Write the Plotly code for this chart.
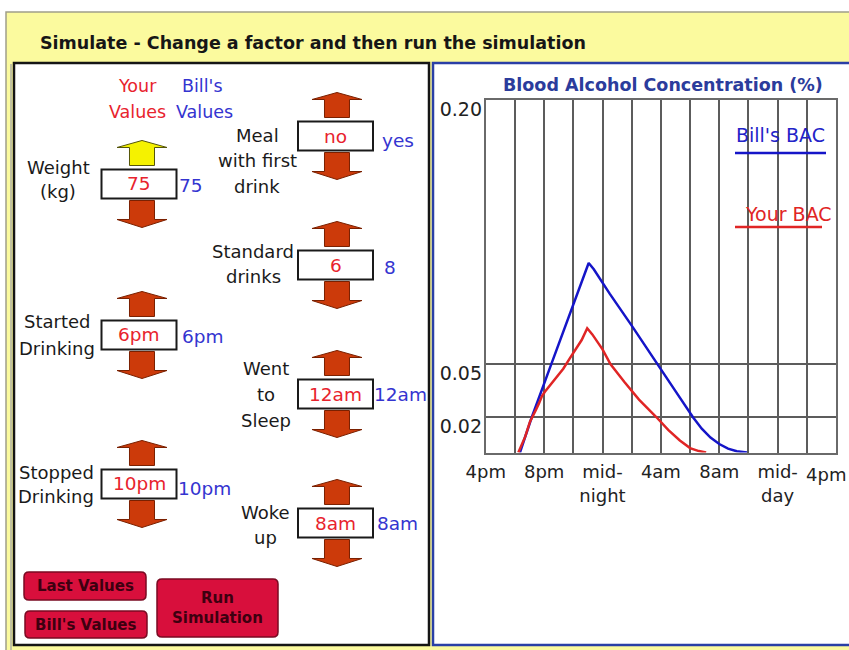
import plotly.graph_objects as go

# ---------------- data ----------------
# hours after 4pm
bill_hours = [2.34, 3.15, 4.35, 5.5, 6.5, 7.05, 7.4, 8.5, 10.0, 11.75, 13.0, 14.2, 14.8, 15.4, 16.0, 16.6, 17.2, 17.9]
bill_bac = [0.0, 0.020, 0.047, 0.073, 0.096, 0.1075, 0.104, 0.090, 0.072, 0.050, 0.0348, 0.020, 0.0135, 0.0085, 0.0048, 0.0022, 0.0007, 0.0]

your_hours = [2.23, 2.7, 3.03, 3.2, 3.45, 3.65, 3.85, 4.05, 4.3, 4.55, 4.8, 5.05, 5.31, 5.8, 6.2, 6.57, 6.95,
              7.3, 8.0, 8.55, 9.5, 10.5, 11.7, 12.5, 13.3, 14.0, 14.6, 15.1]
your_bac = [0.0, 0.009, 0.0175, 0.020, 0.0245, 0.028, 0.032, 0.0345, 0.037, 0.040, 0.0425, 0.0445, 0.0475, 0.054, 0.059, 0.0638, 0.0705,
            0.067, 0.0585, 0.050, 0.040, 0.030, 0.020, 0.0128, 0.0068, 0.0025, 0.0008, 0.0]

x_tick_vals = [0, 4, 8, 12, 16, 20, 24]
x_tick_text = ["4pm", "8pm", "mid-<br>night", "4am", "8am", "mid-<br>day", "4pm"]
y_tick_vals = [0.02, 0.05, 0.20]
y_tick_text = ["0.02", "0.05", "0.20"]

control_labels = [["Weight", "(kg)"], ["Meal", "with first", "drink"], ["Standard", "drinks"],
                  ["Started", "Drinking"], ["Went", "to", "Sleep"], ["Stopped", "Drinking"], ["Woke", "up"]]
your_values = ["75", "no", "6", "6pm", "12am", "10pm", "8am"]
bills_values = ["75", "yes", "8", "6pm", "12am", "10pm", "8am"]
button_labels = ["Last Values", "Bill's Values", "Run<br>Simulation"]

# ---------------- layout helpers (pixel -> paper) ----------------
W, H = 849, 650
FONT = "DejaVu Sans"
RED_T = "#e8232d"
BLUE_T = "#3434d0"


def fx(x):
    return x / W


def fy(y):
    return 1 - y / H


def rect(x0, y0, x1, y1, fill, line, lw, layer="above"):
    return dict(type="rect", xref="paper", yref="paper", x0=fx(x0), x1=fx(x1), y0=fy(y1), y1=fy(y0),
                fillcolor=fill, line=dict(color=line, width=lw), layer=layer)


def poly(points, fill, line, lw):
    p = "M " + " L ".join(f"{fx(a):.5f},{fy(b):.5f}" for a, b in points) + " Z"
    return dict(type="path", xref="paper", yref="paper", path=p, fillcolor=fill,
                line=dict(color=line, width=lw), layer="above")


def rrect(x0, y0, x1, y1, r, fill, line, lw):
    p = (f"M {fx(x0 + r)},{fy(y0)} L {fx(x1 - r)},{fy(y0)} Q {fx(x1)},{fy(y0)} {fx(x1)},{fy(y0 + r)} "
         f"L {fx(x1)},{fy(y1 - r)} Q {fx(x1)},{fy(y1)} {fx(x1 - r)},{fy(y1)} "
         f"L {fx(x0 + r)},{fy(y1)} Q {fx(x0)},{fy(y1)} {fx(x0)},{fy(y1 - r)} "
         f"L {fx(x0)},{fy(y0 + r)} Q {fx(x0)},{fy(y0)} {fx(x0 + r)},{fy(y0)} Z")
    return dict(type="path", xref="paper", yref="paper", path=p, fillcolor=fill,
                line=dict(color=line, width=lw), layer="above")


def text(x, y, s, size=18, color="#1a1a1a", anchor="center", bold=False):
    return dict(xref="paper", yref="paper", x=fx(x), y=fy(y), text=(f"<b>{s}</b>" if bold else s),
                showarrow=False, xanchor=anchor, yanchor="middle",
                font=dict(family=FONT, size=size, color=color))


def arrow(cx, box_top, box_bot, up, fill="#cc3a0a", line="#7a2000"):
    hw, sw = 25, 12.5
    if up:
        apex, base, sb = box_top - 29, box_top - 22, box_top - 4
    else:
        apex, base, sb = box_bot + 29, box_bot + 21, box_bot + 2
    pts = [(cx - sw, sb), (cx - sw, base), (cx - hw, base), (cx, apex), (cx + hw, base), (cx + sw, base), (cx + sw, sb)]
    return poly(pts, fill, line, 1)


shapes = []
annotations = []

# background frame and panels
shapes.append(rect(6, 12, 853, 654, "#fbfa9e", "#a09f8a", 1.5, layer="below"))
shapes.append(rect(14, 63, 429, 645, "white", "#151515", 2.5, layer="below"))
shapes.append(rect(433, 63, 853, 645, "white", "#2a3fa6", 2.5, layer="below"))
shapes.append(dict(type="line", xref="paper", yref="paper", x0=fx(11), x1=fx(11), y0=fy(64), y1=fy(654),
                   line=dict(color="#b0b0a0", width=1.5), layer="below"))

annotations.append(text(38, 43, "Simulate - Change a factor and then run the simulation", 17.5, "#161616", "left", True))

# column headers
annotations += [text(137, 86, "Your", 17.5, RED_T), text(137, 112, "Values", 17.5, RED_T),
                text(202, 86, "Bill's", 17.5, BLUE_T), text(204, 112, "Values", 17.5, BLUE_T)]

# controls: (box center x, box center y, label x, label ys, bill value x, bill value y, arrow cx)
ctrl_pos = [
    (139, 184, 58, [167, 192], 191, 185, 142),
    (335.5, 136, 257, [135, 160, 186], 398, 140, 337),
    (335.5, 265, 253, [252, 277], 390, 267, 337),
    (139, 335, 57, [322, 348], 203, 336, 142),
    (335.5, 394, 266, [368, 395, 420], 400, 395, 337),
    (139, 484, 56, [472, 496], 204, 488, 142),
    (335.5, 523, 265, [512, 537], 397, 523, 337),
]
for i, (bx, by, lx, lys, vx, vy, acx) in enumerate(ctrl_pos):
    top, bot = by - 14.5, by + 14.5
    shapes.append(rect(bx - 37.5, top, bx + 37.5, bot, "white", "#1a1a1a", 2))
    if i == 0:
        shapes.append(arrow(acx, top, bot, True, fill="#f5f200", line="#55550a"))
    else:
        shapes.append(arrow(acx, top, bot, True))
    shapes.append(arrow(acx, top, bot, False))
    annotations.append(text(bx, by, your_values[i], 18.5, RED_T))
    annotations.append(text(vx, vy, bills_values[i], 18.5, BLUE_T))
    for ly, s in zip(lys, control_labels[i]):
        annotations.append(text(lx, ly, s, 18))

# buttons
btn_pos = [(24, 572, 146, 600), (25, 611, 147, 638), (157, 579, 278, 637)]
for (x0, y0, x1, y1), s in zip(btn_pos, button_labels):
    shapes.append(rrect(x0, y0, x1, y1, 5, "#d80f3c", "#7a0a22", 1.5))
    annotations.append(text((x0 + x1) / 2, (y0 + y1) / 2, s, 15, "#3d0010", "center", True))

# chart title and legend
annotations.append(text(663, 85, "Blood Alcohol Concentration (%)", 17.5, "#2b3c9c", "center", True))
annotations.append(text(780, 135, "Bill's BAC", 19, "#2323c8"))
annotations.append(text(788, 214, "Your BAC", 19, "#e02525"))
shapes.append(dict(type="line", xref="paper", yref="paper", x0=fx(735), x1=fx(826), y0=fy(153), y1=fy(153),
                   line=dict(color="#1515c8", width=2.5)))
shapes.append(dict(type="line", xref="paper", yref="paper", x0=fx(735), x1=fx(822), y0=fy(227), y1=fy(227),
                   line=dict(color="#e02525", width=2.5)))

# the last tick label sits at the window edge: draw it right-aligned so it stays whole
axis_tick_text = x_tick_text[:-1] + [""]
annotations.append(dict(xref="paper", yref="paper", x=fx(848), y=fy(462), text=x_tick_text[-1],
                        showarrow=False, xanchor="right", yanchor="top",
                        font=dict(family=FONT, size=18, color="#222")))

fig = go.Figure()
fig.add_trace(go.Scatter(x=bill_hours, y=bill_bac, mode="lines", name="Bill's BAC",
                         line=dict(color="#1515c8", width=2.5)))
fig.add_trace(go.Scatter(x=your_hours, y=your_bac, mode="lines", name="Your BAC",
                         line=dict(color="#e02525", width=2.5)))

grid_c = "#5c5c5c"
fig.update_layout(
    width=W, height=H, margin=dict(l=0, r=0, t=0, b=0, pad=0, autoexpand=False),
    paper_bgcolor="white", plot_bgcolor="rgba(0,0,0,0)",
    showlegend=False,
    shapes=shapes, annotations=annotations,
    xaxis=dict(domain=[fx(485.8), fx(836)], range=[0, 24], tickvals=x_tick_vals, ticktext=axis_tick_text,
               showgrid=True, gridcolor=grid_c, gridwidth=2,
               minor=dict(dtick=2, tick0=0, showgrid=True, gridcolor=grid_c, gridwidth=2),
               showline=True, mirror=True, linecolor="#6a6a6a", linewidth=2, zeroline=False, ticks="",
               tickfont=dict(family=FONT, size=18, color="#222"), ticklabelstandoff=2,
               ticklabeloverflow="allow", fixedrange=True, automargin=False),
    yaxis=dict(domain=[fy(452.5), fy(100)], range=[0, 0.2], tickvals=y_tick_vals, ticktext=y_tick_text,
               showgrid=True, gridcolor=grid_c, gridwidth=2,
               showline=True, mirror=True, linecolor="#6a6a6a", linewidth=2, zeroline=False, ticks="",
               tickfont=dict(family=FONT, size=19, color="#222"), ticklabelshift=9, ticklabelstandoff=-2,
               ticklabeloverflow="allow", fixedrange=True, automargin=False),
)

fig.write_html("out.html", config={"displayModeBar": False},
               post_script="document.body.style.margin='0px';document.body.style.overflow='hidden';")
